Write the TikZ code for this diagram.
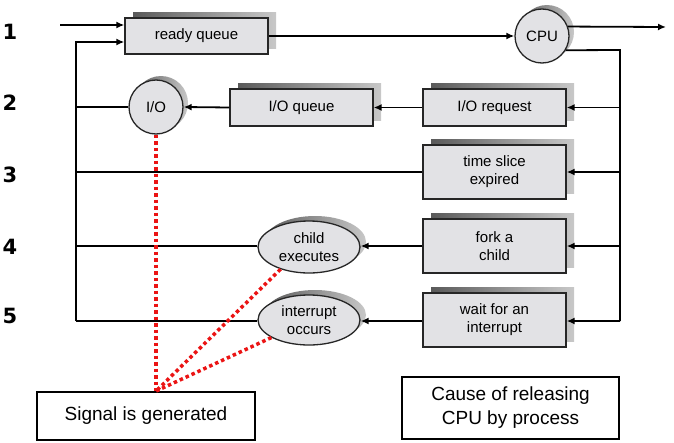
\documentclass[tikz,border=0pt]{standalone}
\usepackage{fontspec}
\setmainfont{Liberation Sans}
\newfontfamily\numfont{DejaVu Sans}
\usepackage{tikz}
\usetikzlibrary{arrows.meta,shapes.geometric,shadows}

\begin{document}
\begin{tikzpicture}[x=1pt,y=-1pt]
        % Define colors
        \definecolor{boxgray}{RGB}{226, 226, 229}    % box fill
        \definecolor{shadowdark}{RGB}{90, 90, 90}     % shadow, left side
        \definecolor{shadowlight}{RGB}{200, 200, 200} % shadow, right side
        \definecolor{signalred}{RGB}{235, 20, 20}     % Red dots

        \tikzset{
          arr/.style={-{Latex[length=8pt,width=7pt]}, line width=1.8pt},
          bus/.style={line width=1.8pt},
          shade/.style={general shadow={shading=axis, left color=shadowdark, right color=shadowlight, shadow xshift=8pt, shadow yshift=6pt}},
          queue/.style={draw=black!85, line width=1.3pt, fill=boxgray, shade, minimum width=143pt, minimum height=37pt, align=center, font=\fontsize{15}{18}\selectfont},
          device/.style={circle, draw=black!85, line width=1.3pt, fill=boxgray, minimum size=54pt, inner sep=0pt, font=\fontsize{15}{18}\selectfont,
            general shadow={shading=axis, left color=shadowdark, right color=shadowlight, shadow xshift=5pt, shadow yshift=4pt}},
          event/.style={ellipse, draw=black!85, line width=1.3pt, fill=boxgray, minimum width=102pt, minimum height=52pt, inner sep=0pt, align=center, font=\fontsize{15}{18}\selectfont,
            general shadow={shading=axis, left color=shadowdark, right color=shadowlight, shadow xshift=6pt, shadow yshift=5pt}},
          note/.style={draw, line width=1.8pt, fill=white, align=center, font=\fontsize{19}{24}\selectfont},
          signal/.style={signalred, line width=3.5pt, dash pattern=on 3.5pt off 3pt},
          rownum/.style={font=\numfont\bfseries\fontsize{21}{24}\selectfont}
        }

        \useasboundingbox (0,0) rectangle (674,442);

        % Row numbers
        \node[rownum] (n1) at (10,32) {1};
        \node[rownum] (n2) at (10,103) {2};
        \node[rownum] (n3) at (10,175) {3};
        \node[rownum] (n4) at (10,247) {4};
        \node[rownum] (n5) at (10,316) {5};

        % Queues and devices
        \node[queue, minimum height=36pt] (ready) at (196.5,36) {ready queue};
        \node[device] (cpu) at (542,36) {CPU};
        \node[device] (io) at (156,107) {I/O};
        \node[queue] (ioq) at (301.5,107.5) {I/O queue};
        \node[queue] (ioreq) at (494.5,107.5) {I/O request};
        \node[queue, minimum height=54pt] (slice) at (494.5,172) {time slice\\expired};
        \node[queue, minimum height=54pt] (fork) at (494.5,246) {fork a\\child};
        \node[queue, minimum height=54pt] (wait) at (494.5,320) {wait for an\\interrupt};
        \node[event] (child) at (309,247) {child\\executes};
        \node[event, minimum height=50pt] (intr) at (309,320) {interrupt\\occurs};

        % Notes
        \node[note, minimum width=218pt, minimum height=48pt] (sig) at (146,416) {Signal is generated};
        \node[note, minimum width=217pt, minimum height=62pt] (cause) at (510.5,408) {Cause of releasing\\CPU by process};

        % Bus lines
        \coordinate (start) at (60,25);
        \coordinate (finish) at (666,27);
        \coordinate (lbtop) at (76,42);
        \coordinate (lbbot) at (76,321);
        \coordinate (rbtop) at (620,50);
        \coordinate (rbbot) at (620,321);

        % Into the ready queue and on to the CPU
        \draw[arr] (start) -- (ready.west |- start);
        \draw[arr] (ready.east) -- (cpu.west);
        \draw[arr] (cpu.20) -- (finish);
        \draw[arr] (lbbot) -- (lbtop) -- (ready.west |- lbtop);

        % Out of the CPU
        \draw[bus] (cpu.-31) -- (rbtop) -- (rbbot);
        \draw[arr] (rbbot |- ioreq.east) -- (ioreq.east);
        \draw[arr] (rbbot |- slice.east) -- (slice.east);
        \draw[arr] (rbbot |- fork.east) -- (fork.east);
        \draw[arr] (rbbot) -- (wait.east |- rbbot);

        % Back to the left bus
        \draw[arr] (ioreq.west) -- (ioq.east);
        \draw[arr] (ioq.west) -- (io.east);
        \draw[bus] (io.west) -- (lbtop |- io.west);
        \draw[bus] (slice.west) -- (lbtop |- slice.west);
        \draw[arr] (fork.west) -- (child.east |- fork.west);
        \draw[bus] (child.west |- fork.west) -- (lbtop |- fork.west);
        \draw[arr] (wait.west |- rbbot) -- (intr.east |- rbbot);
        \draw[bus] (intr.west |- rbbot) -- (lbbot);

        % Signals
        \draw[signal] (io.south) -- (io.south |- sig.north);
        \draw[signal] (child.218) -- (io.south |- sig.north);
        \draw[signal] (intr.205) -- (io.south |- sig.north);

    \end{tikzpicture}
\end{document}
